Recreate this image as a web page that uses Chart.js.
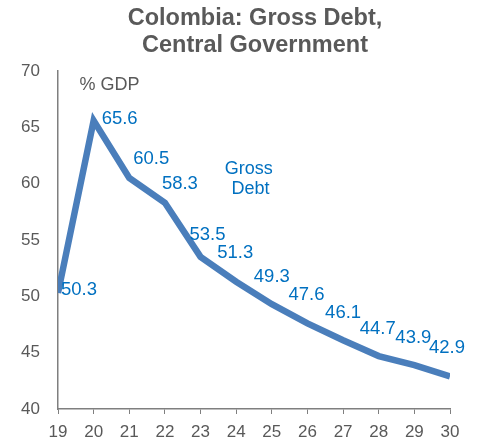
<!DOCTYPE html>
<html>
<head>
<meta charset="utf-8">
<script src="https://cdn.jsdelivr.net/npm/chart.js@4/dist/chart.umd.min.js"></script>
<style>
  html, body { margin: 0; padding: 0; background: #ffffff; }
  #wrap { width: 479px; height: 440px; position: relative; }
</style>
</head>
<body>
<div id="wrap"><canvas id="c" width="479" height="440"></canvas></div>
<script>
const years = [19, 20, 21, 22, 23, 24, 25, 26, 27, 28, 29, 30];
const grossDebt = [50.3, 65.6, 60.5, 58.3, 53.5, 51.3, 49.3, 47.6, 46.1, 44.7, 43.9, 42.9];
const yTicks = [40, 45, 50, 55, 60, 65, 70];
const titleLines = ['Colombia: Gross Debt,', 'Central Government'];
const unitLabel = '% GDP';
const seriesLabel = ['Gross', 'Debt'];

const GRAY = '#595959';
const BLUE_TEXT = '#0070C0';
const LINE_BLUE = '#4A7EBB';
const FONT = '"Liberation Sans", Arial, sans-serif';

// label offsets relative to each point (style, not data)
const labelDx = [21, 26, 22, 15, 7, -1, 0, -1, 0, -1, -1, -3];
const labelDy = [-3, -2, -19, -19, -22, -29, -27, -28, -27, -27, -27, -28];

const annot = {
  id: 'annot',
  afterDatasetsDraw(chart) {
    const ctx = chart.ctx;
    const meta = chart.getDatasetMeta(0);
    ctx.save();
    ctx.textAlign = 'center';
    ctx.textBaseline = 'middle';
    ctx.fillStyle = BLUE_TEXT;
    ctx.font = '18.5px ' + FONT;
    meta.data.forEach((pt, i) => {
      ctx.fillText(grossDebt[i].toFixed(1), pt.x + labelDx[i], pt.y + labelDy[i]);
    });
    // series label
    const xs = chart.scales.x, ys = chart.scales.y;
    ctx.font = '18px ' + FONT;
    ctx.fillText(seriesLabel[0], xs.getPixelForValue(24.35), ys.getPixelForValue(61.3));
    ctx.fillText(seriesLabel[1], xs.getPixelForValue(24.4), ys.getPixelForValue(59.55));
    // unit label
    ctx.fillStyle = GRAY;
    ctx.textAlign = 'left';
    ctx.fillText(unitLabel, xs.getPixelForValue(19.6), ys.getPixelForValue(68.75));
    // title
    ctx.font = 'bold 23.5px ' + FONT;
    ctx.textAlign = 'center';
    ctx.fillText(titleLines[0], 255, 18.5);
    ctx.fillText(titleLines[1], 255, 45.5);
    ctx.restore();
  }
};

new Chart(document.getElementById('c'), {
  type: 'line',
  data: {
    datasets: [{
      data: years.map((y, i) => ({ x: y, y: grossDebt[i] })),
      borderColor: LINE_BLUE,
      borderWidth: 6.5,
      pointRadius: 0,
      tension: 0,
      fill: false,
      borderJoinStyle: 'miter',
      borderCapStyle: 'butt'
    }]
  },
  options: {
    responsive: false,
    animation: false,
    devicePixelRatio: 1,
    layout: { padding: { top: 71, right: 29, left: 0, bottom: 0 } },
    plugins: { legend: { display: false }, tooltip: { enabled: false }, title: { display: false } },
    scales: {
      x: {
        type: 'linear',
        min: 19, max: 30,
        afterBuildTicks(s) { s.ticks = years.map(v => ({ value: v })); },
        grid: { display: true, drawOnChartArea: false, drawTicks: true, tickLength: 5, color: '#7f7f7f', lineWidth: 1 },
        border: { display: true, color: '#7f7f7f', width: 1.5 },
        ticks: { color: GRAY, font: { family: FONT, size: 17 }, padding: 8, autoSkip: false, maxRotation: 0 },
        afterFit(s) { s.height = 31; }
      },
      y: {
        min: 40, max: 70,
        afterBuildTicks(s) { s.ticks = yTicks.map(v => ({ value: v })); },
        grid: { display: false },
        border: { display: true, color: '#7f7f7f', width: 1.5 },
        ticks: { color: GRAY, font: { family: FONT, size: 17 }, padding: 10 },
        afterFit(s) { s.width = 58; }
      }
    }
  },
  plugins: [annot]
});
</script>
</body>
</html>
